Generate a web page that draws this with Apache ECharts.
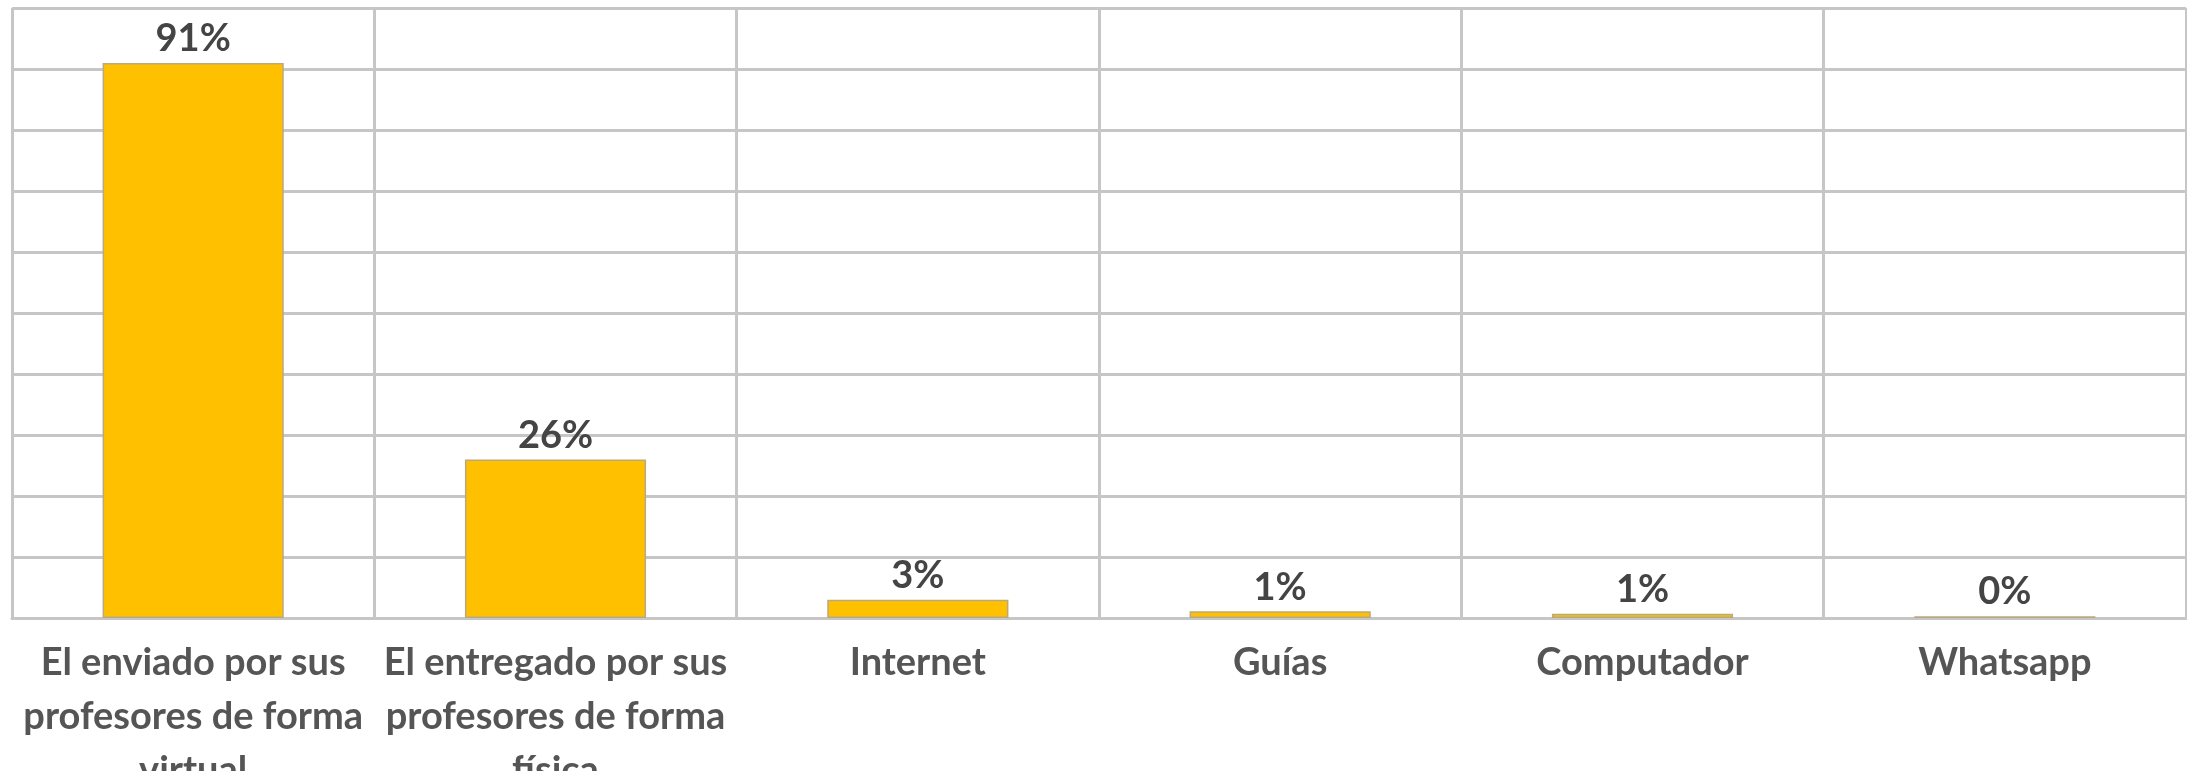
<!DOCTYPE html>
<html>
<head>
<meta charset="utf-8">
<script src="https://cdn.jsdelivr.net/npm/echarts@6/dist/echarts.min.js"></script>
<style>
html,body{margin:0;padding:0;background:#fff;}
#c{width:2187px;height:771px;}
</style>
</head>
<body>
<div id="c"></div>
<script>
const categories = [
  "El enviado por sus\nprofesores de forma\nvirtual",
  "El entregado por sus\nprofesores de forma\nfísica",
  "Internet",
  "Guías",
  "Computador",
  "Whatsapp"
];
const values = [91, 26, 3, 1.1, 0.7, 0.3];
const valueLabels = ["91%", "26%", "3%", "1%", "1%", "0%"];

const chart = echarts.init(document.getElementById('c'));
const font = 'Lato, "Open Sans", sans-serif';
chart.setOption({
  animation: false,
  backgroundColor: '#ffffff',
  grid: { left: 12, right: 1, top: 8, bottom: 153, containLabel: false, outerBoundsMode: 'none' },
  xAxis: {
    type: 'category',
    data: categories,
    boundaryGap: true,
    axisTick: { show: false },
    axisLine: { show: true, lineStyle: { color: '#c6c6c6', width: 3 } },
    splitLine: { show: true, lineStyle: { color: '#c6c6c6', width: 3 } },
    axisLabel: {
      interval: 0,
      margin: 18,
      color: '#555555',
      fontFamily: font,
      fontWeight: 'bold',
      fontSize: 38,
      lineHeight: 54,
      align: 'center'
    }
  },
  yAxis: {
    type: 'value',
    min: 0,
    max: 100,
    interval: 10,
    axisLabel: { show: false },
    axisLine: { show: false },
    axisTick: { show: false },
    splitLine: { show: true, lineStyle: { color: '#c6c6c6', width: 3 } }
  },
  series: [{
    type: 'bar',
    data: values,
    barWidth: '50%',
    itemStyle: { color: '#FFC000', borderColor: '#b9a97e', borderWidth: 1.5 },
    label: {
      show: true,
      position: 'top',
      distance: 5,
      color: '#444444',
      fontFamily: font,
      fontWeight: 'bold',
      fontSize: 38,
      formatter: p => valueLabels[p.dataIndex]
    }
  }]
});
</script>
</body>
</html>
